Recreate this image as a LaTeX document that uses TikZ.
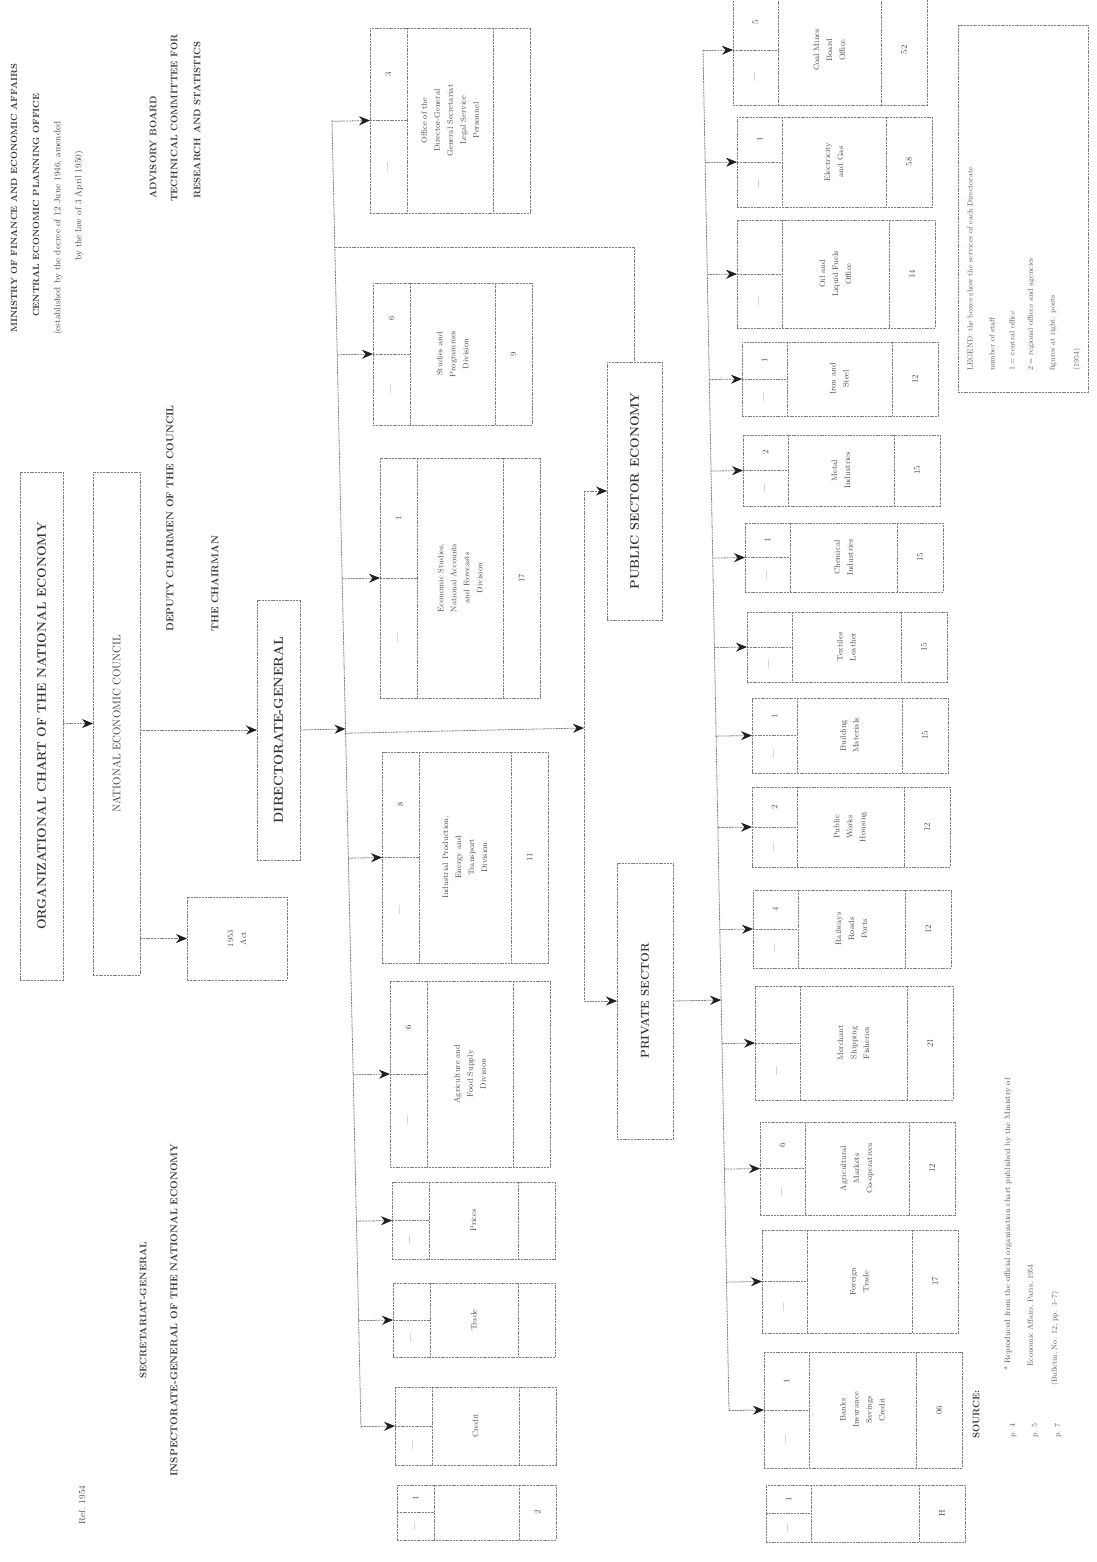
\documentclass[tikz,border=0pt]{standalone}
\usepackage{fontspec}
\usetikzlibrary{arrows.meta,calc}
\newcommand{\lwid}{37}
\newcommand{\rwid}{37}
% name, x0, y0, x3, y1, number, middle text, right text
\newcommand{\orgbox}[8]{%
  \node[boxst, anchor=north west, minimum width={(#4-#2)*1pt}, minimum height={(#5-#3)*1pt}] (#1) at (#2,#3) {};
  \draw[ln] ({#2+\lwid},#3) -- ({#2+\lwid},#5);
  \draw[ln] ({#4-\rwid},#3) -- ({#4-\rwid},#5);
  \draw[ln] (#1.west) -- ({#2+\lwid},{(#3+#5)/2});
  \node[num] at ({#2+\lwid/2},{#3+(#5-#3)/4}) {#6};
  \node[num] at ({#2+\lwid/2},{#5-(#5-#3)/4}) {---};
  \node[tx] at ({(#2+\lwid+#4-\rwid)/2},{(#3+#5)/2}) {#7};
  \node[num] at ({#4-\rwid/2},{(#3+#5)/2}) {#8};
}
\begin{document}
\begin{tikzpicture}[x=1pt,y=-1pt,
  ln/.style={draw=black!50, line width=0.8pt, dash pattern=on 2pt off 0.8pt},
  arr/.style={ln, -{Stealth[length=11pt,width=9pt,color=black!88]}},
  boxst/.style={ln, rectangle, inner sep=0pt, outer sep=0pt},
  tx/.style={text=black!70, font=\fontsize{8}{13}\selectfont, rotate=90, align=center, inner sep=1pt},
  num/.style={text=black!72, font=\fontsize{8.5}{10}\selectfont, rotate=90, inner sep=1pt},
  ttl/.style={text=black!80, font=\fontsize{12.5}{15}\selectfont\bfseries, rotate=90, inner sep=1pt},
  lbl/.style={text=black!70, font=\fontsize{9}{11}\selectfont, rotate=90, inner sep=1pt, anchor=west},
  blbl/.style={text=black!78, font=\fontsize{9.5}{11}\selectfont\bfseries, rotate=90, inner sep=1pt, anchor=west},
  small/.style={text=black!65, font=\fontsize{7.5}{9}\selectfont, rotate=90, inner sep=1pt, anchor=west},
]
\fill[white] (0,0) rectangle (1096,1562);
\useasboundingbox (0,0) rectangle (1096,1562);

% ---------- top-left heading ----------
\node[blbl, font=\fontsize{9}{11}\selectfont\bfseries] (h1) at (14,334) {MINISTRY OF FINANCE AND ECONOMIC AFFAIRS};
\node[blbl, font=\fontsize{9}{11}\selectfont\bfseries] (h2) at (36,318) {CENTRAL ECONOMIC PLANNING OFFICE};
\node[lbl] (h3) at (58,336) {(established by the decree of 12 June 1946, amended};
\node[lbl] (h4) at (79,262) {by the law of 3 April 1950)};

\node[blbl] (h5) at (153,200) {ADVISORY BOARD};
\node[blbl] (h6) at (174,203) {TECHNICAL COMMITTEE FOR};
\node[blbl] (h7) at (197,200) {RESEARCH AND STATISTICS};

\node[blbl, font=\fontsize{10}{12}\selectfont\bfseries] (ch1) at (170,633) {DEPUTY CHAIRMEN OF THE COUNCIL};
\node[blbl, font=\fontsize{10}{12}\selectfont\bfseries\addfontfeature{LetterSpace=14}] (ch2) at (215,633) {THE CHAIRMAN};

% ---------- left chain ----------
\node[boxst, anchor=north west, minimum width=43pt, minimum height=508pt] (tbox) at (20,472) {};
\node[ttl] at (tbox.center) {ORGANIZATIONAL CHART OF THE NATIONAL ECONOMY};
\node[boxst, anchor=north west, minimum width=47pt, minimum height=503pt] (fbox) at (93,472) {};
\node[ttl, font=\fontsize{11}{13}\selectfont\addfontfeature{LetterSpace=10}] at (fbox.center) {NATIONAL ECONOMIC COUNCIL};
\node[boxst, anchor=north west, minimum width=43pt, minimum height=260pt] (dir) at (257,600) {};
\node[ttl, font=\fontsize{13}{15}\selectfont\bfseries\addfontfeature{LetterSpace=6}] at (dir.center) {DIRECTORATE-GENERAL};
\node[boxst, anchor=north west, minimum width=100pt, minimum height=83pt] (sbox) at (187,897) {};
\node[tx] at (sbox.center) {1953\\Act};

\draw[arr] (tbox.east |- fbox.west) -- (fbox.west);
\draw[arr] (fbox.east |- dir.west) -- (dir.west);
\draw[arr] (fbox.east |- sbox.west) -- (sbox.west);

% bottom-left notes
\node[blbl, anchor=center] (n1) at (143,1310) {SECRETARIAT-GENERAL};
\node[blbl, anchor=center, font=\fontsize{10}{12}\selectfont\bfseries\addfontfeature{LetterSpace=4}] (n2) at (174,1310) {INSPECTORATE-GENERAL OF THE NATIONAL ECONOMY};
\node[lbl, anchor=center] (n3) at (82,1505) {Ref. 1954};

% ---------- left bus ----------
\coordinate (LT) at (332,120);
\coordinate (LB) at (361,1428);
\draw[ln] (LT) -- (LB);
\coordinate (DM) at (584,728);
\coordinate (TP) at (0,255);
\coordinate (DX) at (584,0);
\draw[arr] (dir.east) -- ($(LT)!(dir.east)!(LB)$);

% ---------- first column ----------
\renewcommand{\lwid}{37}\renewcommand{\rwid}{37}
\orgbox{A1}{370}{28}{530}{213}{3}{Office of the\\Director-General\\General Secretariat\\Legal Service\\Personnel}{}
\orgbox{A2}{373}{283}{532}{425}{6}{Studies and\\Programmes\\Division}{9}
\orgbox{A3}{380}{458}{540}{698}{1}{Economic Studies,\\National Accounts\\and Forecasts\\Division}{17}
\orgbox{A4}{382}{752}{548}{963}{8}{Industrial Production,\\Energy and\\Transport\\Division}{11}
\orgbox{A5}{390}{981}{550}{1167}{6}{Agriculture and\\Food Supply\\Division}{}
\orgbox{A6}{392}{1182}{555}{1259}{}{Prices}{}
\orgbox{A7}{393}{1283}{555}{1357}{}{Trade}{}
\orgbox{A8}{395}{1387}{556}{1465}{}{Credit}{}
\orgbox{A9}{397}{1485}{556}{1540}{1}{}{2}
\foreach \b in {A1,A2,A3,A4,A5,A6,A7,A8}
  \draw[arr] ($(LT)!(\b.west)!(LB)$) -- (\b.west);

% ---------- sectors ----------
\node[boxst, anchor=north west, minimum width=55pt, minimum height=258pt] (PUB) at (607,362) {};
\node[ttl, font=\fontsize{12.5}{15}\selectfont\bfseries] at (PUB.center) {PUBLIC SECTOR ECONOMY};
\node[boxst, anchor=north west, minimum width=56pt, minimum height=276pt] (PRIV) at (617,863) {};
\node[ttl, font=\fontsize{11.5}{14}\selectfont\bfseries] at (PRIV.center) {PRIVATE SECTOR};

\coordinate (D1) at (DX |- PUB.west);
\coordinate (D2) at (DX |- PRIV.west);
\draw[ln] (D1) -- (D2);
\draw[arr] ($(LT)!(DM)!(LB)$) -- (DM);
\draw[arr] (D1) -- (PUB.west);
\draw[arr] (D2) -- (PRIV.west);
\draw[ln] ($(LT)!(TP)!(LB)$) -| (PUB.north);

% ---------- right bus ----------
\coordinate (RT) at (703,50);
\coordinate (RB) at (729,1411);
\draw[ln] (RT) -- (RB);
\draw[arr] (PRIV.east) -- ($(RT)!(PRIV.east)!(RB)$);

% ---------- second column ----------
\renewcommand{\lwid}{45}\renewcommand{\rwid}{46}
\orgbox{R1}{733}{-5}{927}{105}{5}{Coal Mines\\Board\\Office}{52}
\orgbox{R2}{737}{117}{932}{207}{1}{Electricity\\and Gas}{58}
\orgbox{R3}{737}{220}{935}{328}{}{Oil and\\Liquid Fuels\\Office}{14}
\orgbox{R4}{742}{342}{938}{416}{1}{Iron and\\Steel}{12}
\orgbox{R5}{743}{435}{940}{506}{2}{Metal\\Industries}{15}
\orgbox{R6}{745}{523}{943}{592}{1}{Chemical\\Industries}{15}
\orgbox{R7}{747}{612}{947}{682}{}{Textiles\\Leather}{15}
\orgbox{R8}{752}{698}{948}{773}{1}{Building\\Materials}{15}
\orgbox{R9}{752}{787}{950}{867}{2}{Public\\Works\\Housing}{12}
\orgbox{R10}{753}{890}{951}{968}{4}{Railways\\Roads\\Ports}{12}
\orgbox{R11}{755}{986}{953}{1100}{}{Merchant\\Shipping\\Fisheries}{21}
\orgbox{R12}{760}{1122}{955}{1215}{6}{Agricultural\\Markets\\Co-operatives}{12}
\orgbox{R13}{762}{1230}{958}{1333}{}{Foreign\\Trade}{17}
\orgbox{R14}{764}{1352}{962}{1468}{1}{Banks\\Insurance\\Savings\\Credit}{06}
\orgbox{R15}{766}{1485}{965}{1542}{1}{}{H}
\foreach \b in {R1,R2,R3,R4,R5,R6,R7,R8,R9,R10,R11,R12,R13,R14}
  \draw[arr] ($(RT)!(\b.west)!(RB)$) -- (\b.west);

% ---------- legend ----------
\node[boxst, anchor=north west, minimum width=130pt, minimum height=367pt] (leg) at (958,25) {};
\node[small] (l1) at (970,372) {LEGEND: the boxes show the services of each Directorate};
\node[small] (l2) at (992,372) {number of staff};
\node[small] (l3) at (1012,372) {1 = central office};
\node[small] (l4) at (1031,372) {2 = regional offices and agencies};
\node[small] (l5) at (1053,372) {figures at right: posts};
\node[small] (l6) at (1077,372) {(1954)};

% ---------- right notes ----------
\node[small, font=\fontsize{8}{9}\selectfont] (r1) at (1008,1372) {* Reproduced from the official organization chart published by the Ministry of};
\node[small] (r2) at (1031,1368) {Economic Affairs, Paris, 1954};
\node[small] (r3) at (1055,1387) {(Bulletin, No. 12, pp. 3--7)};
\node[blbl] (r4) at (976,1440) {SOURCE:};
\node[small] (r5) at (1013,1439) {p. 4};
\node[small] (r6) at (1035,1439) {p. 5};
\node[small] (r7) at (1058,1439) {p. 7};
\end{tikzpicture}
\end{document}
